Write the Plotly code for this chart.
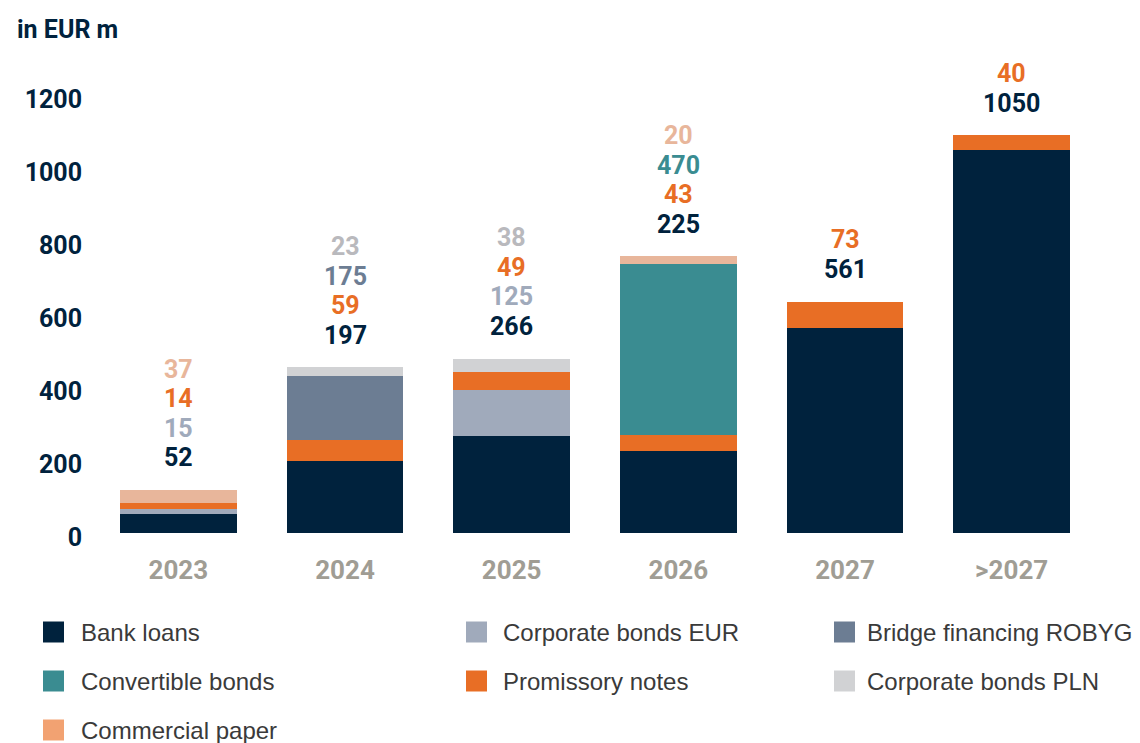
import plotly.graph_objects as go

# data (EUR m)
years = ["2023", "2024", "2025", "2026", "2027", ">2027"]
bank_loans = [52, 197, 266, 225, 561, 1050]
corp_bonds_eur = [15, 0, 125, 0, 0, 0]
promissory_notes = [14, 59, 49, 43, 73, 40]
bridge_robyg = [0, 175, 0, 0, 0, 0]
convertible_bonds = [0, 0, 0, 470, 0, 0]
corp_bonds_pln = [0, 23, 38, 0, 0, 0]
commercial_paper = [37, 0, 0, 20, 0, 0]

series = [
    ("Bank loans", bank_loans, "#00223d", "#00223d", "#00223d"),
    ("Corporate bonds EUR", corp_bonds_eur, "#a0aabb", "#a0aabb", "#a0aabb"),
    ("Promissory notes", promissory_notes, "#e86e25", "#e86e25", "#e86e25"),
    ("Bridge financing ROBYG", bridge_robyg, "#6c7d93", "#6c7d93", "#6c7d93"),
    ("Convertible bonds", convertible_bonds, "#3a8c91", "#3a8c91", "#3a8c91"),
    ("Corporate bonds PLN", corp_bonds_pln, "#d1d2d4", "#b9b9bd", "#d1d2d4"),
    ("Commercial paper", commercial_paper, "#e8b69b", "#e8b69b", "#f2a272"),
]

legend_rows = [
    ["Bank loans", "Corporate bonds EUR", "Bridge financing ROBYG"],
    ["Convertible bonds", "Promissory notes", "Corporate bonds PLN"],
    ["Commercial paper"],
]

# page body adds an 8px margin, so the figure is drawn 8px smaller
W, H = 1132, 735
L, R, T, B = 87, 45, 87, 210
NAVY = "#00223d"
BOLD = "Roboto"


def px_x(px):
    # reference pixel -> paper x
    return (px - 95) / (W - L - R)


def px_y(py):
    return (533 - py) / (H - T - B)


fig = go.Figure()
for name, vals, bar_col, lab_col, leg_col in series:
    fig.add_trace(go.Bar(x=years, y=vals, name=name, marker_color=bar_col,
                         marker_line_width=0, showlegend=False, hoverinfo="skip"))

# stacked value labels above each bar
for i, yr in enumerate(years):
    total = sum(s[1][i] for s in series)
    k = 0
    for name, vals, bar_col, lab_col, leg_col in series:
        if vals[i] == 0:
            continue
        fig.add_annotation(x=i, y=total, text="<b>%d</b>" % vals[i], showarrow=False,
                           yanchor="middle", yshift=32 + 29.6 * k,
                           font=dict(family=BOLD, size=25, color=lab_col))
        k += 1

# custom legend
col_sq = [43, 466, 834]
col_tx = [79, 501, 865]
row_y = [632, 681, 730]
colors = {s[0]: s[4] for s in series}
for r, row in enumerate(legend_rows):
    for c, name in enumerate(row):
        fig.add_shape(type="rect", xref="paper", yref="paper",
                      x0=px_x(col_sq[c]), x1=px_x(col_sq[c] + 21),
                      y0=px_y(row_y[r] + 10.5), y1=px_y(row_y[r] - 10.5),
                      fillcolor=colors[name], line_width=0)
        fig.add_annotation(xref="paper", yref="paper", x=px_x(col_tx[c]), y=px_y(row_y[r]),
                           xanchor="left", yanchor="middle", text=name, showarrow=False,
                           font=dict(family="Liberation Sans", size=24, color="#3a3a3a"))

fig.add_annotation(xref="paper", yref="paper", x=px_x(15), y=px_y(30),
                   xanchor="left", yanchor="middle", text="<b>in EUR m</b>", showarrow=False,
                   font=dict(family=BOLD, size=25, color=NAVY))

fig.update_layout(
    barmode="stack",
    bargap=0.3,
    width=W, height=H,
    margin=dict(l=L, r=R, t=T, b=B),
    plot_bgcolor="white", paper_bgcolor="white",
    xaxis=dict(type="category", range=[-0.5, len(years) - 0.5],
               showgrid=False, showline=False, zeroline=False, ticks="",
               tickfont=dict(family=BOLD, size=26, color="#a09d94", weight=700),
               ticklabelstandoff=19),
    yaxis=dict(range=[0, 1200], tickvals=[0, 200, 400, 600, 800, 1000, 1200],
               showgrid=False, showline=False, zeroline=False, ticks="",
               tickfont=dict(family=BOLD, size=25, color=NAVY, weight=700),
               ticklabelstandoff=12, ticklabelshift=4),
)

fig.write_html("out.html")
